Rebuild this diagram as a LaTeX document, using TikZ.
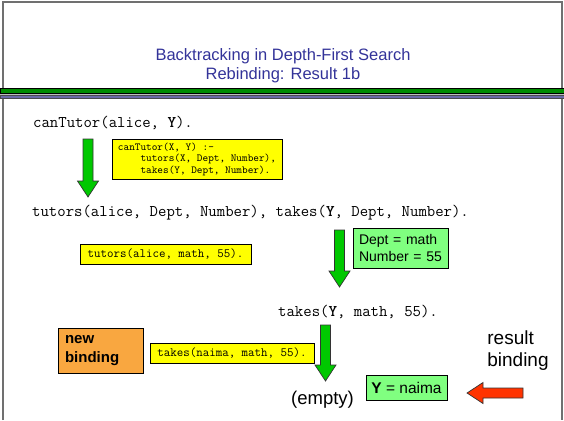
\documentclass[tikz,border=0pt]{standalone}
\usepackage{fontspec}
\setmainfont{Liberation Sans}
\definecolor{titleblue}{HTML}{333399}
\definecolor{framegray}{HTML}{707070}
\definecolor{bargreen}{HTML}{008C00}
\definecolor{barblue}{HTML}{6B6BA8}
\definecolor{noteyellow}{HTML}{FFFF00}
\definecolor{notegreen}{HTML}{80FF80}
\definecolor{noteorange}{HTML}{F9A740}
\definecolor{arrowgreen}{HTML}{00C800}
\definecolor{arrowred}{HTML}{FF3300}
% block arrow: tip, rotation, length, fill
\newcommand{\slidearrow}[4]{%
	\draw[ArrowStyle, fill=#4, shift={#1}, rotate=#2]
		(0,0) -- (-16,10.5) -- (-16,5) -- (-#3,5) -- (-#3,-5) -- (-16,-5) -- (-16,-10.5) -- cycle;}
\begin{document}
\begin{tikzpicture}[x=1pt, y=-1pt]
			\tikzset{
			  TitleStyle/.style = { inner sep=0pt, align=center, text=titleblue,
			                        font=\fontsize{16.5}{19}\selectfont },
			  CodeStyle/.style = { inner sep=0pt, anchor=west,
			                       font=\ttfamily\fontsize{16.3}{18}\selectfont },
			  NoteStyle/.style = { draw, thin, inner sep=0pt, fill=noteyellow,
			                       font=\ttfamily\fontsize{12.6}{14}\selectfont },
			  BindStyle/.style = { draw, thin, inner sep=0pt, fill=notegreen },
			  ArrowStyle/.style = { draw=black!80, line width=0.7pt, line join=miter } }
			\useasboundingbox (0,0) rectangle (564,420);
			% frame and header bars
			\draw[framegray, line width=1.5pt] (3,420) -- (3,2) -- (562,2) -- (562,420);
			\fill[black!25] (0,88) rectangle (564,98);
			\draw[fill=bargreen, line width=0.6pt] (0,88.5) rectangle (564,93);
			\draw[fill=barblue, draw=black!70, line width=0.6pt] (0,95.3) rectangle (564,97.8);
			\node[TitleStyle] (title) at (283,65.5) {Backtracking in Depth-First Search\\Rebinding: Result 1b};
			% goals
			\node[CodeStyle] (goal) at (33,123) {canTutor(alice, \textbf{Y}).};
			\node[CodeStyle] (sub) at (32,213) {tutors(alice, Dept, Number), takes(\textbf{Y}, Dept, Number).};
			\node[CodeStyle] (rest) at (278,312) {takes(\textbf{Y}, math, 55).};
			\node[inner sep=0pt, font=\fontsize{18.5}{21}\selectfont] (empty) at (322.5,400) {(empty)};
			% clauses and facts
			\node[NoteStyle, minimum width=170pt, minimum height=40pt, align=left,
			      font=\ttfamily\fontsize{10.75}{11.5}\selectfont] (rule) at (197,159)
			      {canTutor(X, Y) :-\\\hspace*{2.1em}tutors(X, Dept, Number),\\\hspace*{2.1em}takes(Y, Dept, Number).};
			\node[NoteStyle, minimum width=171pt, minimum height=20pt] (fact1) at (165.5,254) {tutors(alice, math, 55).};
			\node[NoteStyle, minimum width=164pt, minimum height=20pt] (fact2) at (232,353) {takes(naima, math, 55).};
			% bindings
			\node[BindStyle, text width=83pt, inner xsep=6pt, minimum height=40pt, align=left,
			      font=\fontsize{14}{17}\selectfont] (unify) at (400.5,248) {Dept = math\\Number = 55};
			\node[BindStyle, minimum width=81pt, minimum height=25pt,
			      font=\fontsize{15.5}{18}\selectfont] (answer) at (406.5,387.5) {\textbf{Y} = naima};
			\node[draw, thin, fill=noteorange, text width=71pt, inner xsep=7pt, inner ysep=0pt,
			      minimum height=45pt, align=left, font=\bfseries\fontsize{15}{19}\selectfont] (newbind) at (100.5,350.5) {new\\binding};
			\node[inner sep=0pt, align=left, font=\fontsize{19}{22}\selectfont] (result) at (518,351) {result\\binding};
			% arrows
			\coordinate (tip1) at (88,197);
			\coordinate (tip2) at (339.5,287);
			\coordinate (tip3) at (325.5,381);
			\coordinate (tip4) at (467,393);
			\slidearrow{(tip1)}{-90}{58}{arrowgreen}
			\slidearrow{(tip2)}{-90}{57}{arrowgreen}
			\slidearrow{(tip3)}{-90}{56}{arrowgreen}
			\slidearrow{(tip4)}{180}{56}{arrowred}
		\end{tikzpicture}
\end{document}
